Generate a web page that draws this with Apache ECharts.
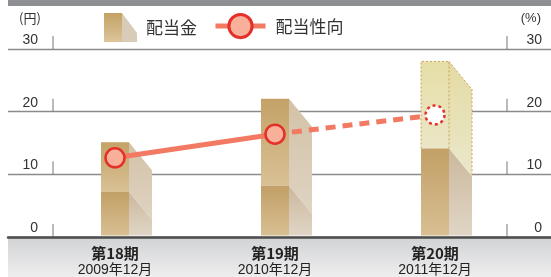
<!DOCTYPE html>
<html>
<head>
<meta charset="utf-8">
<script src="https://cdn.jsdelivr.net/npm/echarts@6/dist/echarts.min.js"></script>
<style>
  html, body { margin: 0; padding: 0; background: #fff; }
  #chart { width: 551px; height: 277px; }
</style>
</head>
<body>
<div id="chart"></div>
<script>
// 決算期
const periodLabels = ['第18期', '第19期', '第20期']
const dateLabels = ['2009年12月', '2010年12月', '2011年12月']
// 配当金（円）: 中間 + 期末, 第20期の期末は予想
const interimDividend = [7, 8, 14]
const yearEndDividend = [8, 14, 14]
// 配当性向（%）
const payoutRatio = [12.5, 16.3, 19.4]
const isForecast = [false, false, true]
// 目盛
const yTicks = [0, 10, 20, 30]

const FONT = "'Liberation Sans', 'Noto Sans CJK JP', sans-serif"
const JP = "'Noto Sans CJK JP', 'Liberation Sans', sans-serif"

const grad = (c1, c2) => new echarts.graphic.LinearGradient(0, 0, 0, 1, [
  { offset: 0, color: c1 },
  { offset: 1, color: c2 }
])

const barIcon = 'image://data:image/svg+xml,' + encodeURIComponent(
  "<svg xmlns='http://www.w3.org/2000/svg' width='33' height='29'>" +
  "<defs><linearGradient id='g' x1='0' y1='0' x2='0' y2='1'>" +
  "<stop offset='0' stop-color='#c3a164'/><stop offset='1' stop-color='#dcc59b'/>" +
  "</linearGradient></defs>" +
  "<rect width='18' height='29' fill='url(#g)'/>" +
  "<path d='M18 0 L33 20 L33 29 L18 29 Z' fill='#d8cbb7'/></svg>"
)

// 立体風の棒（正面 + 側面）
function renderDividend(params, api) {
  const i = api.value(0)
  const low = api.value(1)
  const high = low + api.value(2)
  const forecast = api.value(3) === 1
  const base = api.coord([i, 0])
  const pLow = api.coord([i, low])
  const pHigh = api.coord([i, high])
  const w = 28, side = 23, slant = 28
  const x0 = base[0] - w / 2, x1 = base[0] + w / 2, x2 = x1 + side
  const y0 = base[1], yL = pLow[1], yH = pHigh[1]

  const children = []
  // 上段
  children.push({
    type: 'rect',
    shape: { x: x0, y: yH, width: w, height: yL - yH },
    style: { fill: forecast ? grad('#e6dea6', '#ebe6c6') : grad('#c4a267', '#d9c195') }
  })
  children.push({
    type: 'polygon',
    shape: { points: [[x1, yH], [x2, yH + slant], [x2, yL + slant], [x1, yL]] },
    style: { fill: forecast ? grad('#e3dba3', '#ebe7cb') : grad('#d3c2a7', '#dfd3c3') }
  })
  // 下段
  children.push({
    type: 'rect',
    shape: { x: x0, y: yL, width: w, height: y0 - yL },
    style: { fill: grad('#c2a066', '#d8bf92') }
  })
  children.push({
    type: 'polygon',
    shape: { points: [[x1, yL], [x2, Math.min(yL + slant, y0)], [x2, y0], [x1, y0]] },
    style: { fill: grad('#cbb89c', '#e0d5c6') }
  })
  if (forecast) {
    children.push({
      type: 'polyline',
      shape: { points: [[x0, yL], [x0, yH], [x1, yH], [x1, yL]] },
      style: { fill: null, stroke: '#c6a15c', lineWidth: 1, lineDash: [2, 2] }
    })
    children.push({
      type: 'polyline',
      shape: { points: [[x1, yH], [x2, yH + slant], [x2, yL + slant]] },
      style: { fill: null, stroke: '#c6a15c', lineWidth: 1, lineDash: [2, 2] }
    })
  }
  return { type: 'group', children }
}

// 軸の縦目盛
function renderTicks(params, api) {
  const y = api.coord([0, api.value(0)])[1]
  const cs = params.coordSys
  const xs = [cs.x + 45, cs.x + cs.width - 44]
  return {
    type: 'group',
    children: xs.map(x => ({
      type: 'line',
      shape: { x1: x, y1: y, x2: x, y2: y - 13 },
      style: { stroke: '#777', lineWidth: 1 }
    }))
  }
}

const chart = echarts.init(document.getElementById('chart'))
chart.setOption({
  animation: false,
  textStyle: { fontFamily: FONT },
  graphic: [
    {
      type: 'rect', z: -10,
      shape: { x: 8, y: 0, width: 543, height: 6 },
      style: { fill: '#8e8f93' }
    },
    {
      type: 'rect', z: -10,
      shape: { x: 8, y: 238, width: 543, height: 39 },
      style: { fill: grad('#d2d3d5', '#eeeeef') }
    }
  ],
  legend: [
    {
      left: 104, top: 13, padding: 0,
      itemWidth: 33, itemHeight: 29, itemGap: 0,
      textStyle: { fontSize: 17, color: '#333', fontFamily: JP, padding: [0, 0, 0, 4] },
      data: [{ name: '配当金', icon: barIcon }],
      selectedMode: false
    },
    {
      left: 213, top: 13, padding: 0,
      itemWidth: 50, itemHeight: 29,
      lineStyle: { width: 5, color: '#f27a62' },
      itemStyle: { color: '#f9b09b', borderColor: '#e5302a', borderWidth: 3 },
      textStyle: { fontSize: 17, color: '#333', fontFamily: JP, padding: [0, 0, 0, 5] },
      data: ['配当性向'],
      selectedMode: false
    }
  ],
  grid: [
    { left: 8, right: 0, top: 49, bottom: 40 },
    { left: 35, right: 36, top: 49, bottom: 40 }
  ],
  xAxis: [
    {
      gridIndex: 0, type: 'value', min: 0, max: 543, z: 5,
      axisLine: { show: true, lineStyle: { color: '#4d4d4d', width: 2.5 } },
      axisTick: { show: false }, axisLabel: { show: false }, splitLine: { show: false }
    },
    {
      gridIndex: 1, type: 'category',
      data: periodLabels.map((p, i) => p + '\n' + dateLabels[i]),
      axisLine: { show: false }, axisTick: { show: false },
      axisLabel: {
        margin: 9,
        formatter: v => {
          const [a, b] = v.split('\n')
          return '{a|' + a + '}\n{b|' + b + '}'
        },
        rich: {
          a: { fontSize: 15, fontWeight: 'bold', color: '#222', lineHeight: 17, fontFamily: JP },
          b: { fontSize: 14, color: '#222', lineHeight: 17, fontFamily: FONT }
        }
      }
    }
  ],
  yAxis: [
    {
      gridIndex: 0, position: 'left', min: 0, max: 30, interval: 10,
      name: '(円)', nameLocation: 'end', nameGap: 31,
      nameTextStyle: { fontSize: 13, color: '#333', align: 'left', verticalAlign: 'middle', padding: [0, 0, 0, 11], fontFamily: JP },
      axisLine: { show: false }, axisTick: { show: false },
      axisLabel: { inside: true, margin: 30, align: 'right', verticalAlign: 'bottom', padding: [0, 0, 2, 0], fontSize: 14, color: '#333' },
      splitLine: { show: true, lineStyle: { color: '#8a8a8a', width: 1.3 } }
    },
    {
      gridIndex: 0, position: 'right', min: 0, max: 30, interval: 10,
      name: '(%)', nameLocation: 'end', nameGap: 31,
      nameTextStyle: { fontSize: 13, color: '#333', align: 'right', verticalAlign: 'middle', padding: [0, 10, 0, 0] },
      axisLine: { show: false }, axisTick: { show: false },
      axisLabel: { inside: true, margin: 9, align: 'right', verticalAlign: 'bottom', padding: [0, 0, 2, 0], fontSize: 14, color: '#333' },
      splitLine: { show: false }
    },
    { gridIndex: 1, position: 'left', min: 0, max: 30, show: false },
    { gridIndex: 1, position: 'right', min: 0, max: 30, show: false }
  ],
  series: [
    {
      name: 'ticks', type: 'custom', silent: true,
      xAxisIndex: 0, yAxisIndex: 0,
      renderItem: renderTicks,
      data: yTicks.map(v => [v])
    },
    {
      name: '配当金', type: 'custom', z: 2,
      xAxisIndex: 1, yAxisIndex: 2,
      renderItem: renderDividend,
      encode: { x: 0, y: [1, 2] },
      data: periodLabels.map((p, i) => [i, interimDividend[i], yearEndDividend[i], isForecast[i] ? 1 : 0])
    },
    {
      name: '配当性向', type: 'line', z: 4,
      xAxisIndex: 1, yAxisIndex: 3,
      data: payoutRatio.map((v, i) => isForecast[i] ? '-' : v),
      symbol: 'circle', symbolSize: 19,
      lineStyle: { color: '#f27a62', width: 5 },
      itemStyle: { color: '#f9b09b', borderColor: '#e5302a', borderWidth: 2.5 }
    },
    {
      name: '配当性向(予想)', type: 'line', z: 3,
      xAxisIndex: 1, yAxisIndex: 3,
      data: payoutRatio.map((v, i) => {
        if (isForecast[i]) {
          return { value: v, itemStyle: { color: '#fff', borderColor: '#e5302a', borderWidth: 2.5, borderType: [3, 3] } }
        }
        if (isForecast[i + 1]) return { value: v, symbol: 'none' }
        return '-'
      }),
      symbol: 'circle', symbolSize: 19,
      lineStyle: { color: '#f27a62', width: 5, type: [10, 7] }
    }
  ]
})
</script>
</body>
</html>
